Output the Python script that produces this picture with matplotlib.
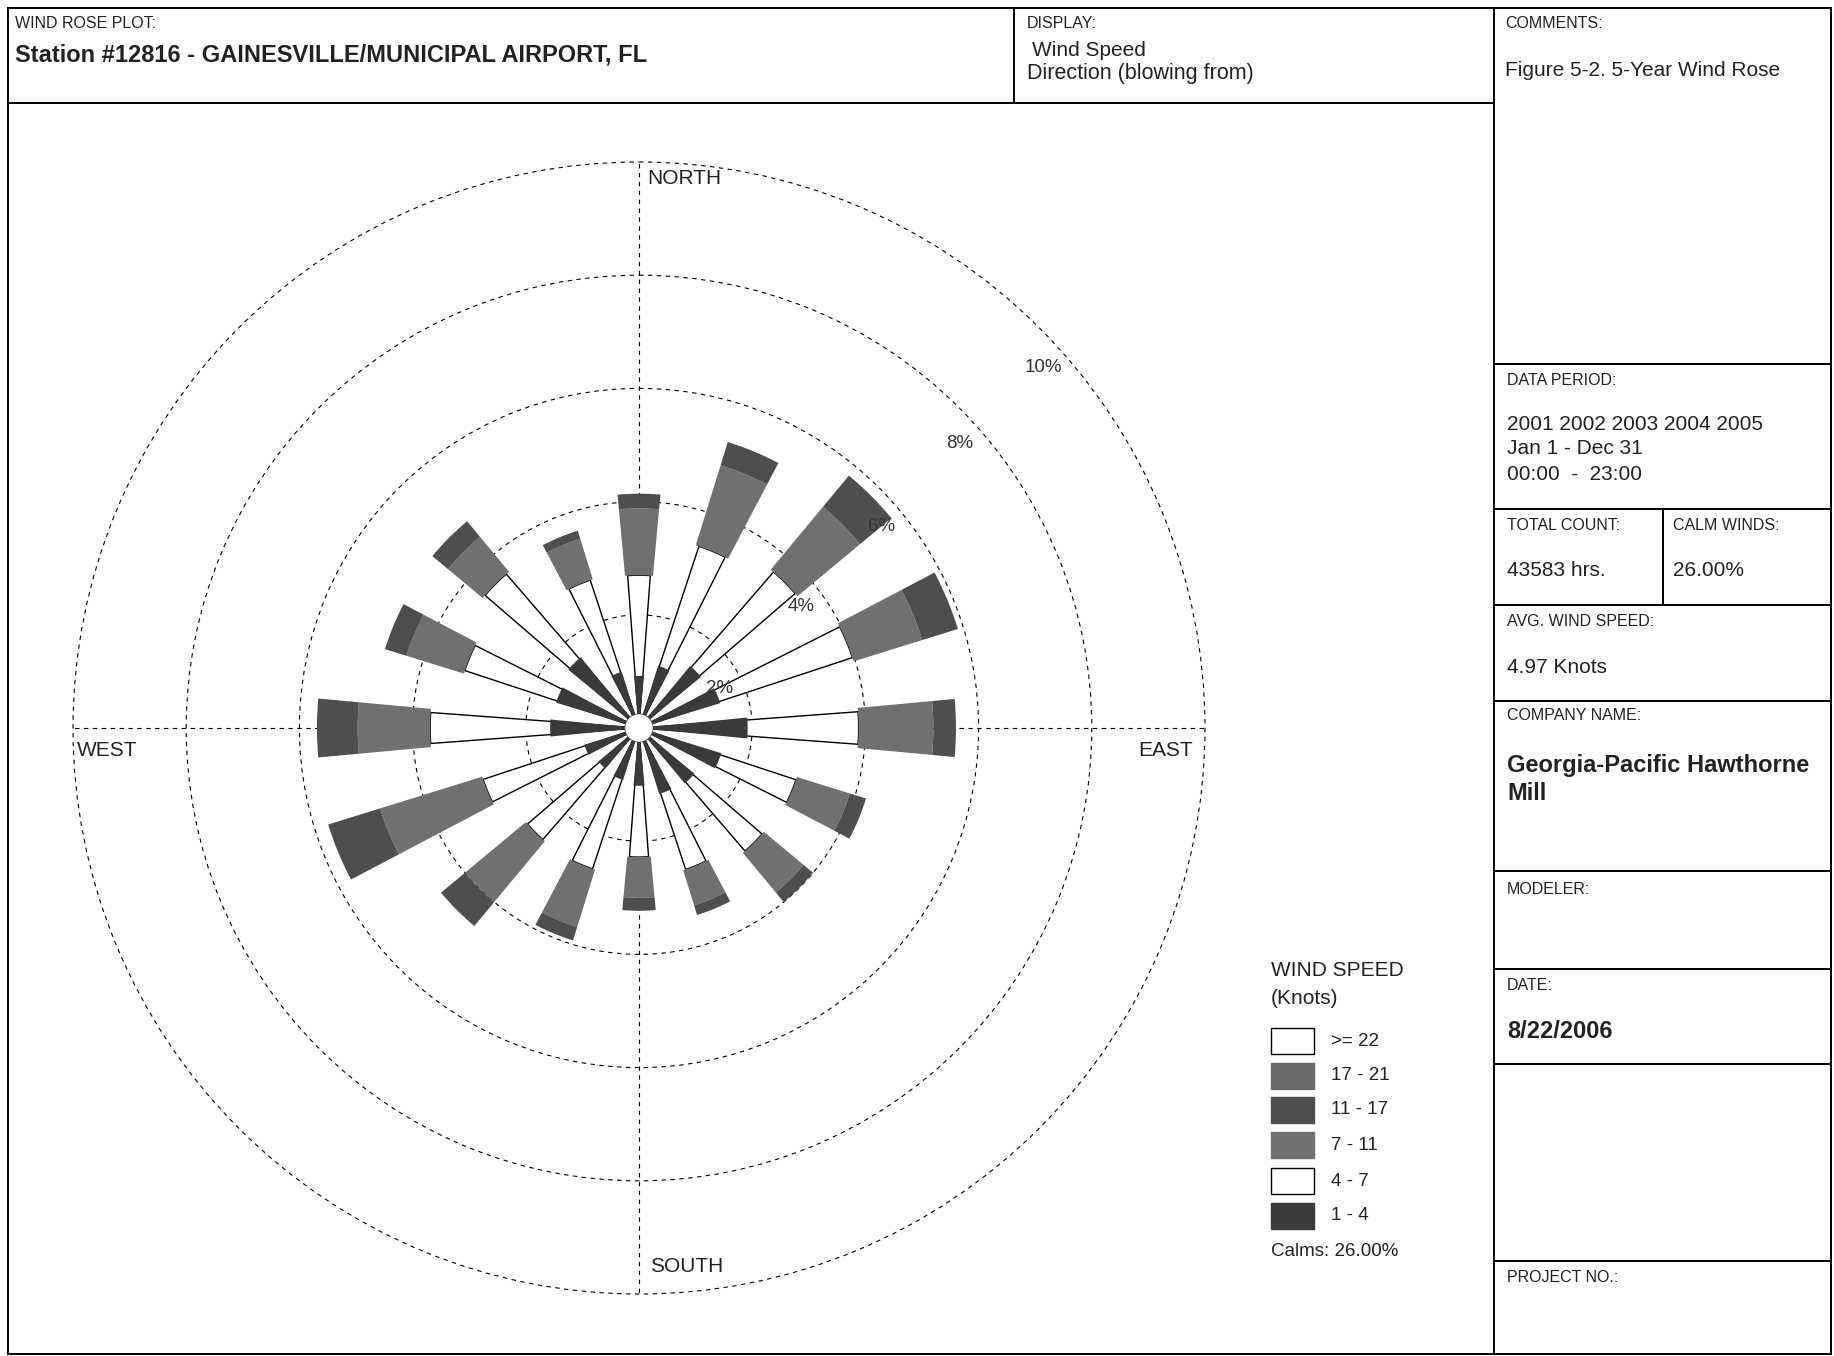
import numpy as np
import matplotlib
matplotlib.use('Agg')
import matplotlib.pyplot as plt
from matplotlib.lines import Line2D
from matplotlib.patches import Rectangle, Circle

plt.rcParams['font.family'] = ['Liberation Sans', 'DejaVu Sans']

# ---------------- data ----------------
directions = ['N', 'NNE', 'NE', 'ENE', 'E', 'ESE', 'SE', 'SSE',
              'S', 'SSW', 'SW', 'WSW', 'W', 'WNW', 'NW', 'NNW']
bearings_deg = [0, 22.5, 45, 67.5, 90, 112.5, 135, 157.5,
                180, 202.5, 225, 247.5, 270, 292.5, 315, 337.5]
speed_classes = ['1 - 4', '4 - 7', '7 - 11', '11 - 17', '17 - 21', '>= 22']

# frequency (%) per direction for each speed class (knots)
freq_1_4 = [0.92, 1.15, 1.42, 1.50, 1.92, 1.52, 1.27, 1.22,
            1.02, 0.96, 0.93, 1.01, 1.57, 1.53, 1.62, 1.04]
freq_4_7 = [1.78, 2.23, 2.22, 2.47, 1.96, 1.40, 1.60, 1.41,
            1.26, 1.66, 1.67, 1.89, 2.12, 1.71, 1.97, 1.71]
freq_7_11 = [1.18, 1.48, 1.44, 1.27, 1.32, 0.98, 0.91, 0.65,
             0.72, 1.06, 1.40, 1.89, 1.28, 1.06, 0.80, 0.75]
freq_11_17 = [0.26, 0.43, 0.72, 0.66, 0.40, 0.30, 0.22, 0.18,
              0.23, 0.25, 0.55, 0.96, 0.72, 0.40, 0.36, 0.15]
freq_17_21 = [0.0] * 16
freq_ge_22 = [0.0] * 16

ring_values = [2, 4, 6, 8, 10]
ring_labels = ['2%', '4%', '6%', '8%', '10%']
calms_pct = 26.00

# ---------------- styles ----------------
class_colors = ['#3a3a3a', '#ffffff', '#707070', '#4e4e4e', '#6a6a6a', '#ffffff']
class_widths_deg = [11.0, 8.5, 10.5, 10.5, 10.5, 10.5]
label_bearings = [64, 53, 50.3, 48.4, 48.3]
label_offset = 0.42

W, H = 1834, 1356
fig = plt.figure(figsize=(W / 100, H / 100), dpi=100)
fig.patch.set_facecolor('white')


def fx(x):
    return x / W


def fy(y):
    return 1 - y / H


def hline(y, x0, x1, lw=1.4):
    fig.add_artist(Line2D([fx(x0), fx(x1)], [fy(y), fy(y)], color='black', lw=lw))


def vline(x, y0, y1, lw=1.4):
    fig.add_artist(Line2D([fx(x), fx(x)], [fy(y0), fy(y1)], color='black', lw=lw))


def txt(x, y, s, size=11, weight='normal', ha='left', va='center', color='#222222'):
    fig.text(fx(x), fy(y), s, fontsize=size, fontweight=weight, ha=ha, va=va, color=color)


# ---------------- frame ----------------
L, T, R, B = 8, 8, 1831, 1354
hline(T, L, R)
hline(B, L, R)
vline(L, T, B)
vline(R, T, B)
hline(103, L, 1494)
vline(1014, T, 103)
vline(1494, T, B)
for yy in [364, 509, 605, 701, 871, 969, 1064, 1261]:
    hline(yy, 1494, R)
vline(1663, 509, 605)

SMALL = 11.5
# header texts
txt(15, 23, 'WIND ROSE PLOT:', SMALL)
txt(15, 55, 'Station #12816 - GAINESVILLE/MUNICIPAL AIRPORT, FL', 17, 'bold')
txt(1027, 23, 'DISPLAY:', SMALL)
txt(1032, 50, 'Wind Speed', 15)
txt(1027, 74, 'Direction (blowing from)', 15.5)
txt(1505, 23, 'COMMENTS:', SMALL)
txt(1505, 70, 'Figure 5-2. 5-Year Wind Rose', 15)

# right panel texts
txt(1507, 381, 'DATA PERIOD:', SMALL)
txt(1507, 424, '2001 2002 2003 2004 2005', 15)
txt(1507, 449, 'Jan 1 - Dec 31', 15)
txt(1507, 474, '00:00  -  23:00', 15)
txt(1507, 526, 'TOTAL COUNT:', SMALL)
txt(1507, 570, '43583 hrs.', 15)
txt(1673, 526, 'CALM WINDS:', SMALL)
txt(1673, 570, '%.2f%%' % calms_pct, 15)
txt(1507, 621, 'AVG. WIND SPEED:', SMALL)
txt(1507, 667, '4.97 Knots', 15)
txt(1507, 716, 'COMPANY NAME:', SMALL)
txt(1507, 765, 'Georgia-Pacific Hawthorne', 17, 'bold')
txt(1507, 793, 'Mill', 17, 'bold')
txt(1507, 889, 'MODELER:', SMALL)
txt(1507, 986, 'DATE:', SMALL)
txt(1507, 1032, '8/22/2006', 17, 'bold')
txt(1507, 1278, 'PROJECT NO.:', SMALL)

# ---------------- wind rose ----------------
cx, cy, Rr = 639, 728, 566
ax = fig.add_axes([fx(cx - Rr), fy(cy + Rr), 2 * Rr / W, 2 * Rr / H], projection='polar')
ax.set_theta_zero_location('N')
ax.set_theta_direction(-1)
ax.set_facecolor('none')
ax.set_ylim(0, 10)
ax.set_rticks(ring_values)
ax.set_yticklabels([])
ax.set_xticks(np.radians([0, 90, 180, 270]))
ax.set_xticklabels([])
ax.grid(True, color='black', lw=0.8, ls=(0, (4, 4)))
for gl in ax.yaxis.get_gridlines() + ax.xaxis.get_gridlines():
    gl.set_clip_on(False)
ax.spines['polar'].set_visible(False)

theta = np.radians(bearings_deg)
series = [freq_1_4, freq_4_7, freq_7_11, freq_11_17, freq_17_21, freq_ge_22]
cum = np.zeros(16)
for k, vals in enumerate(series):
    vals = np.asarray(vals, dtype=float)
    w = np.radians(class_widths_deg[k])
    if k == 0:
        ax.bar(theta, vals, width=w, bottom=0, color=class_colors[k], lw=0, zorder=4)
    elif k == 1:
        ax.bar(theta, cum + vals, width=w, bottom=0, color=class_colors[k],
               edgecolor='black', lw=1.0, zorder=3)
    else:
        mask = vals > 0
        if mask.any():
            ax.bar(theta[mask], vals[mask], width=w, bottom=cum[mask],
                   color=class_colors[k], lw=0, zorder=4)
    cum = cum + vals

ax.add_patch(Circle((0.5, 0.5), 0.0125, transform=ax.transAxes, facecolor='white',
                    edgecolor='#444444', lw=0.6, zorder=6))

for v, lab, b in zip(ring_values, ring_labels, label_bearings):
    ax.text(np.radians(b), v - label_offset, lab, fontsize=13.5, ha='center', va='center',
            color='#333333', zorder=7)

# compass labels
txt(647, 178, 'NORTH', 15)
txt(650, 1267, 'SOUTH', 15)
txt(77, 751, 'WEST', 15)
txt(1193, 751, 'EAST', 15, ha='right')

# ---------------- legend ----------------
txt(1271, 970, 'WIND SPEED', 15)
txt(1271, 998, '(Knots)', 15)
row_y = [1041, 1076, 1110, 1145, 1181, 1216]
for i, k in enumerate(range(len(speed_classes) - 1, -1, -1)):
    yc = row_y[i]
    fig.add_artist(Rectangle((fx(1271), fy(yc + 13)), 43 / W, 26 / H,
                             facecolor=class_colors[k],
                             edgecolor='black' if class_colors[k] == '#ffffff' else class_colors[k],
                             lw=1.0))
    txt(1331, yc, speed_classes[k], 13.5)
txt(1271, 1252, 'Calms: %.2f%%' % calms_pct, 13.5)

fig.savefig('out.png', dpi=100, facecolor='white')
